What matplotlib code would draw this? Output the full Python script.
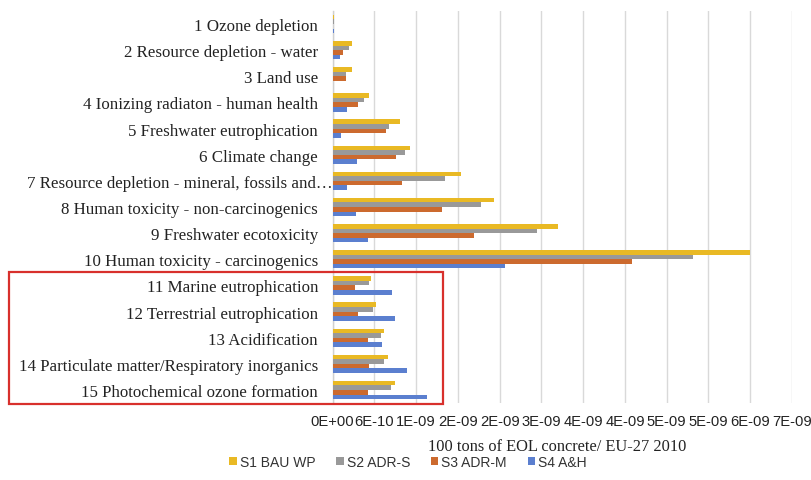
import matplotlib
matplotlib.use('Agg')
import matplotlib.pyplot as plt
import numpy as np
from matplotlib.patches import Rectangle
from matplotlib.ticker import FixedLocator, FixedFormatter
from matplotlib.transforms import ScaledTranslation

categories = [
    "1 Ozone depletion",
    "2 Resource depletion - water",
    "3 Land use",
    "4 Ionizing radiaton - human health",
    "5 Freshwater eutrophication",
    "6 Climate change",
    "7 Resource depletion - mineral, fossils and\u2026",
    "8 Human toxicity - non-carcinogenics",
    "9 Freshwater ecotoxicity",
    "10 Human toxicity - carcinogenics",
    "11 Marine eutrophication",
    "12 Terrestrial eutrophication",
    "13 Acidification",
    "14 Particulate matter/Respiratory inorganics",
    "15 Photochemical ozone formation",
]
series_names = ["S1 BAU WP", "S2 ADR-S", "S3 ADR-M", "S4 A&H"]
# values in units of 1e-10
s1 = [0.20, 2.85, 2.85, 5.21, 9.71, 11.2, 18.45, 23.24, 32.35, 59.9, 5.58, 6.21, 7.46, 8.03, 8.95]
s2 = [0.15, 2.37, 1.99, 4.58, 8.17, 10.48, 16.23, 21.27, 29.33, 51.8, 5.25, 5.78, 7.02, 7.46, 8.46]
s3 = [0.05, 1.47, 1.90, 3.63, 7.65, 9.14, 10.05, 15.71, 20.32, 43.0, 3.28, 3.67, 5.15, 5.30, 5.15]
s4 = [0.15, 1.12, 0.00, 2.04, 1.27, 3.57, 2.13, 3.38, 5.06, 24.8, 8.52, 8.95, 7.12, 10.72, 13.64]
tick_step = 6e-10
tick_labels = ["0E+00", "6E-10", "1E-09", "2E-09", "2E-09", "3E-09",
               "4E-09", "4E-09", "5E-09", "5E-09", "6E-09", "7E-09"]
xlabel = "100 tons of EOL concrete/ EU-27 2010"

colors = ['#E9B924', '#999999', '#CC6A2E', '#5B7FCF']

W, H = 811, 481
fig = plt.figure(figsize=(W / 100, H / 100), dpi=100)
ax = fig.add_axes([332.5 / W, 1 - 404 / H, (792 - 332.5) / W, (404 - 12) / H])

y = np.arange(len(categories))
h = 0.175
series = [s1, s2, s3, s4]
for k, (vals, name, c) in enumerate(zip(series, series_names, colors)):
    v = np.array(vals) * 1e-10
    ax.barh(y + (k - 1.5) * h, v, height=h, color=c, label=name,
            edgecolor='none', zorder=3)

ticks = np.arange(len(tick_labels)) * tick_step
ax.set_xlim(0, ticks[-1])
ax.xaxis.set_major_locator(FixedLocator(ticks))
ax.xaxis.set_major_formatter(FixedFormatter(tick_labels))
ax.set_ylim(len(categories) - 0.5, -0.5)
ax.set_yticks(y)
ax.set_yticklabels(categories, family='Liberation Serif', fontsize=12.2, color='#222222')
for lab in ax.get_xticklabels():
    lab.set_family('Liberation Sans')
    lab.set_fontsize(10.6)
    lab.set_color('#222222')
ax.tick_params(axis='both', length=0)
ax.tick_params(axis='y', pad=10.4)
ax.tick_params(axis='x', pad=8)
ax.grid(axis='x', color='#D9D9D9', linewidth=1.0, zorder=0)
for s in ['top', 'right', 'bottom']:
    ax.spines[s].set_visible(False)
ax.spines['left'].set_color('#D0D0D0')
ax.spines['left'].set_linewidth(1.0)

# the truncated label 7 overflows to the right in the original
lab7 = ax.get_yticklabels()[6]
lab7.set_transform(lab7.get_transform() + ScaledTranslation(15 / 100, 0, fig.dpi_scale_trans))

fig.text(557 / W, 1 - 447 / H, xlabel, family='Liberation Serif', fontsize=11.8,
         ha='center', va='center', color='#222222')

handles, labels = ax.get_legend_handles_labels()
leg = fig.legend(handles, labels, loc='center', bbox_to_anchor=(408 / W, 1 - 463 / H),
                 ncol=4, frameon=False, handlelength=0.55, handleheight=0.55,
                 handletextpad=0.2, columnspacing=1.5,
                 prop={'family': 'Liberation Sans', 'size': 10})
for t in leg.get_texts():
    t.set_color('#333333')

rect = Rectangle((9.3 / W, 1 - 405 / H), (443.3 - 9.3) / W, (405 - 273.3) / H,
                 transform=fig.transFigure, fill=False, edgecolor='#D8302C',
                 linewidth=1.6, zorder=10)
fig.add_artist(rect)

fig.savefig('out.png', dpi=100)
